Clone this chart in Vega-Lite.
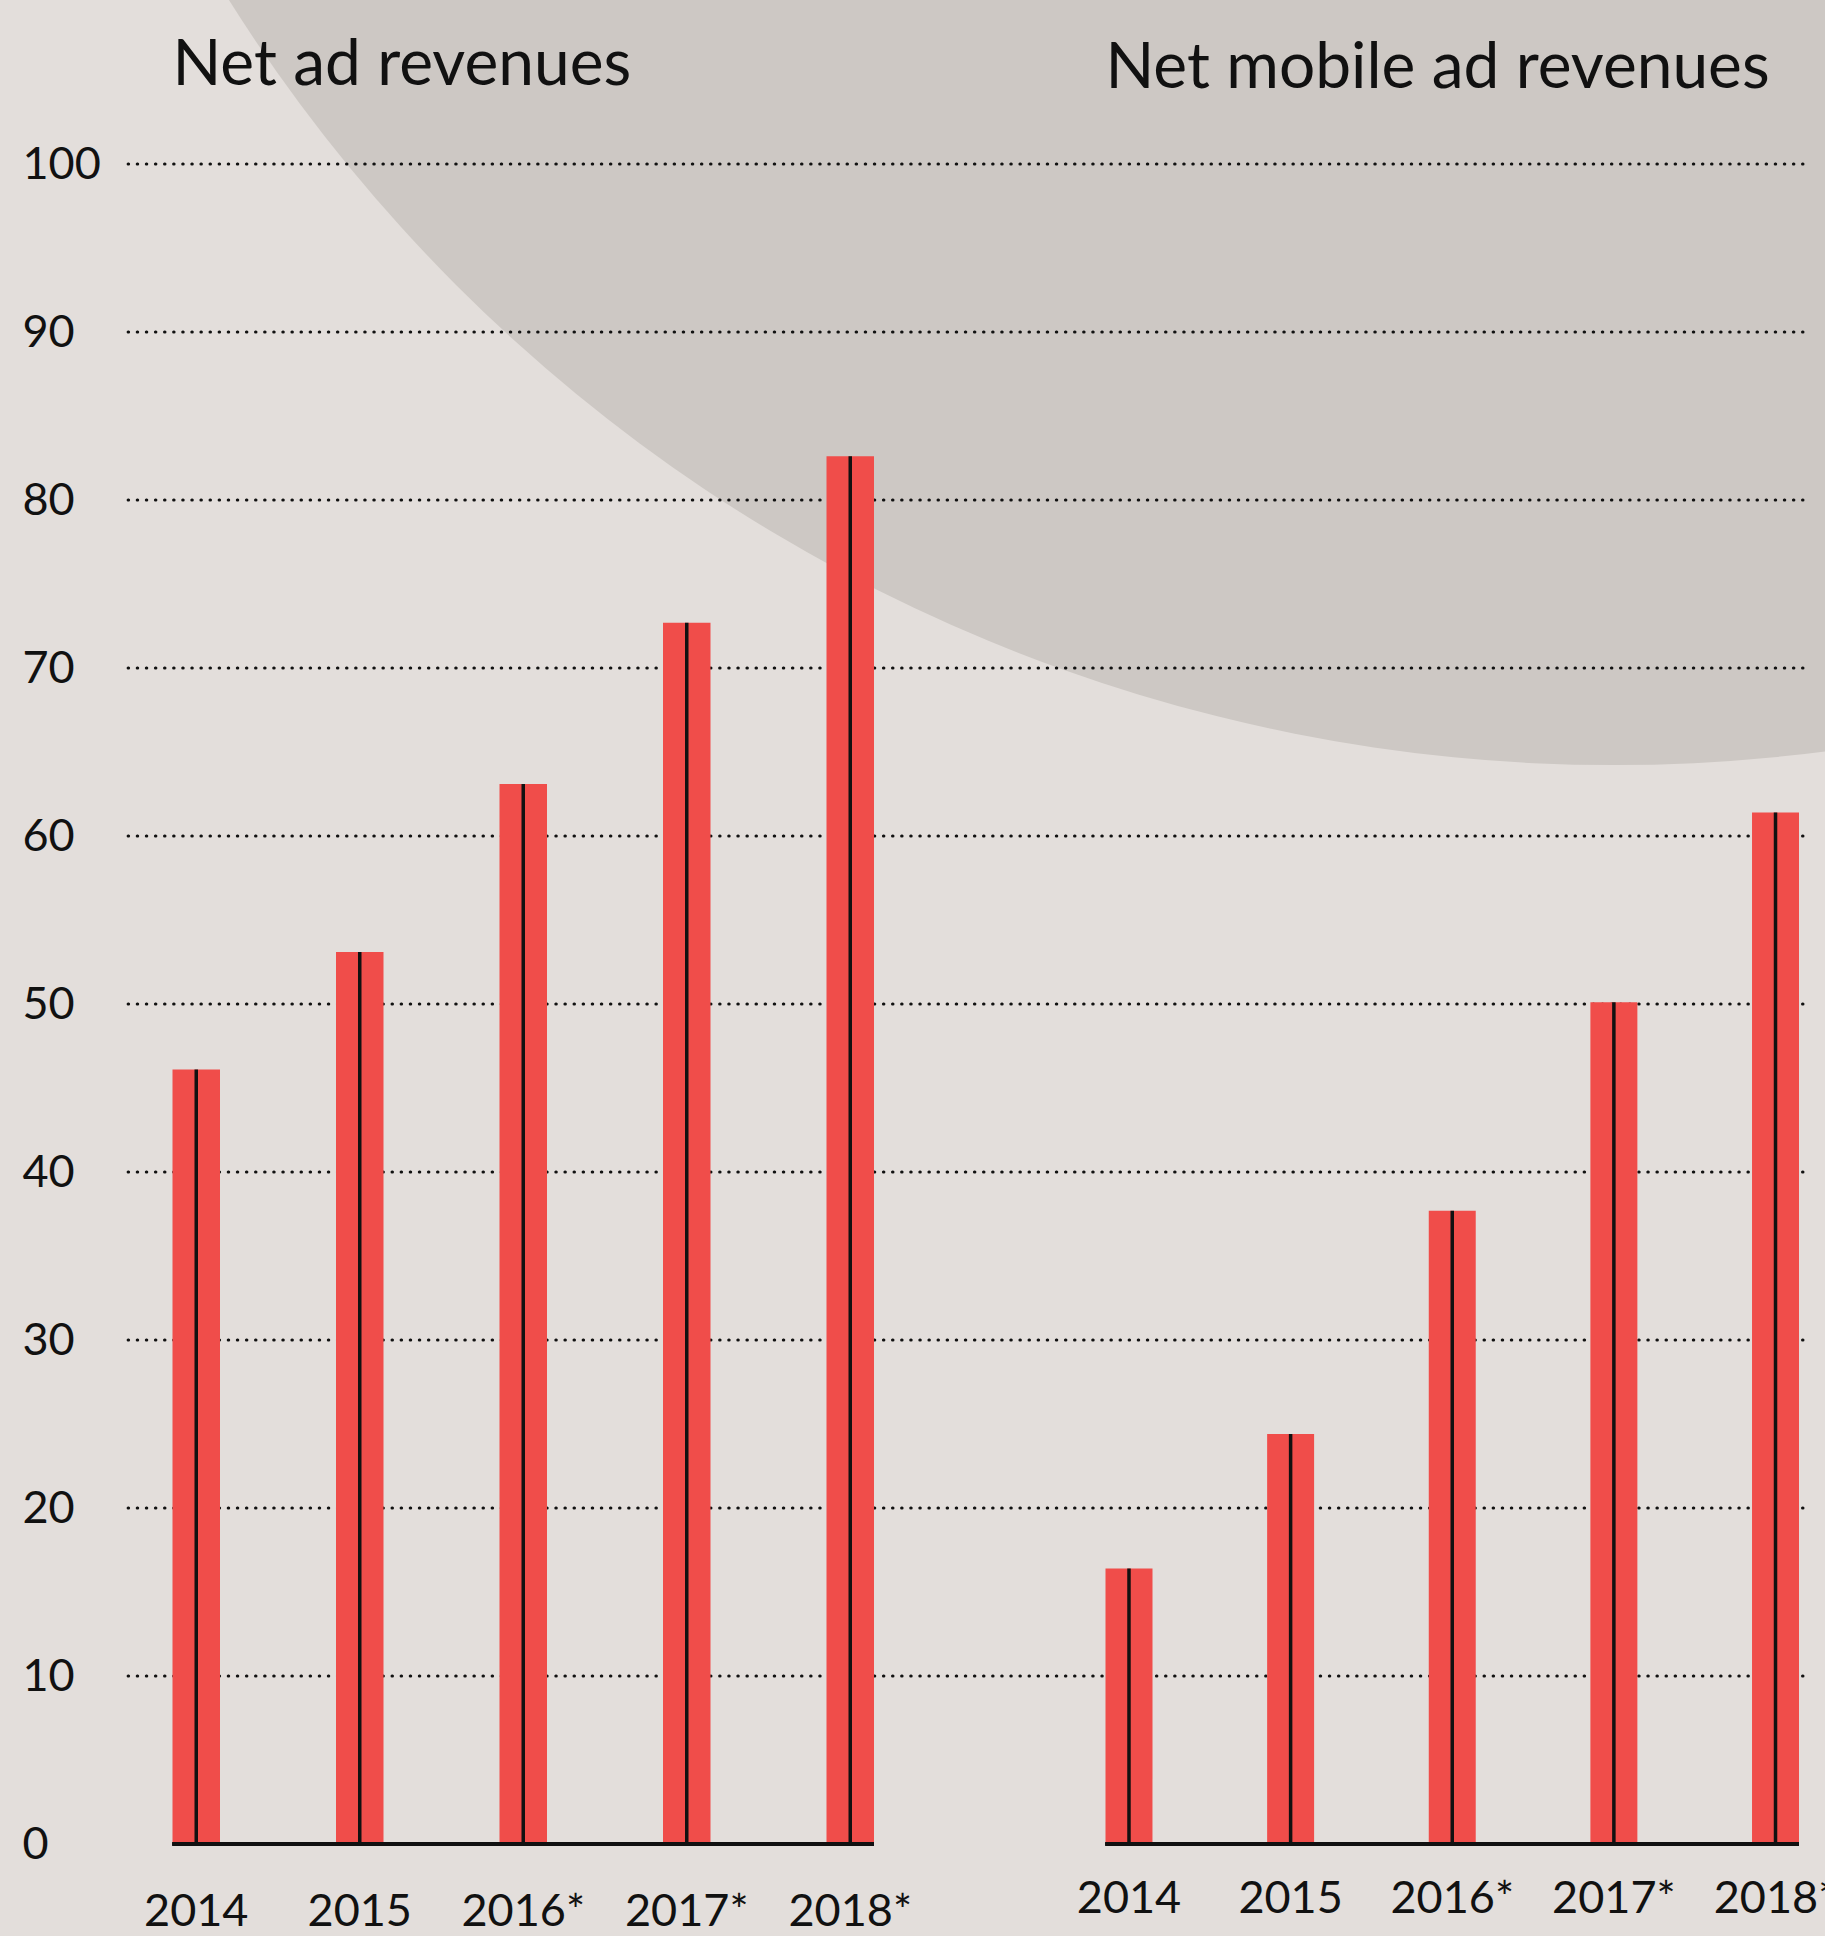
{
  "$schema": "https://vega.github.io/schema/vega-lite/v6.json",
  "width": 1675,
  "height": 1680,
  "autosize": {"type": "none"},
  "padding": {"left": 128, "top": 164, "right": 22, "bottom": 92},
  "background": "#E3DEDB",
  "config": {"view": {"stroke": null}, "font": "Lato"},
  "datasets": {
    "revenue": [
      {"panel": "Net ad revenues", "year": "2014", "value": 46.1},
      {"panel": "Net ad revenues", "year": "2015", "value": 53.1},
      {"panel": "Net ad revenues", "year": "2016*", "value": 63.1},
      {"panel": "Net ad revenues", "year": "2017*", "value": 72.7},
      {"panel": "Net ad revenues", "year": "2018*", "value": 82.6},
      {"panel": "Net mobile ad revenues", "year": "2014", "value": 16.4},
      {"panel": "Net mobile ad revenues", "year": "2015", "value": 24.4},
      {"panel": "Net mobile ad revenues", "year": "2016*", "value": 37.7},
      {"panel": "Net mobile ad revenues", "year": "2017*", "value": 50.1},
      {"panel": "Net mobile ad revenues", "year": "2018*", "value": 61.4}
    ],
    "panels": [
      {"panel": "Net ad revenues"},
      {"panel": "Net mobile ad revenues"}
    ],
    "grid": [
      {"v": 10}, {"v": 20}, {"v": 30}, {"v": 40}, {"v": 50},
      {"v": 60}, {"v": 70}, {"v": 80}, {"v": 90}, {"v": 100}
    ],
    "backdrop": [{"shape": "circle"}]
  },
  "resolve": {"scale": {"x": "independent"}, "axis": {"x": "independent"}},
  "layer": [
    {
      "data": {"name": "backdrop"},
      "mark": {"type": "point", "shape": "circle", "filled": true, "opacity": 1, "color": "#CDC8C4", "size": 10705984, "strokeWidth": 0},
      "encoding": {
        "x": {"datum": "2017*", "type": "nominal", "scale": {"type": "band", "domain": ["2014", "2015", "2016*", "2017*", "2018*"], "range": [977.5, 1671], "paddingInner": 0.7094, "paddingOuter": 0}, "axis": null},
        "y": {"datum": 161.6, "type": "quantitative"}
      }
    },
    {
      "data": {"name": "grid"},
      "mark": {"type": "rule", "color": "#111111", "strokeWidth": 3, "strokeCap": "round", "strokeDash": [0.5, 8.6]},
      "encoding": {
        "y": {
          "field": "v", "type": "quantitative",
          "scale": {"domain": [0, 100], "nice": false, "zero": true},
          "axis": {
            "values": [0, 10, 20, 30, 40, 50, 60, 70, 80, 90, 100],
            "title": null, "domain": false, "ticks": false, "tickSize": 0, "grid": false,
            "labelAlign": "left", "labelPadding": 106, "labelFontSize": 45, "labelFont": "Lato",
            "labelColor": "#111111", "labelBaseline": "middle", "orient": "left"
          }
        }
      }
    },
    {
      "data": {"name": "revenue"},
      "transform": [{"filter": "datum.panel === 'Net ad revenues'"}],
      "encoding": {
        "x": {
          "field": "year", "type": "nominal", "sort": null,
          "scale": {"type": "band", "range": [44.5, 746], "paddingInner": 0.7095, "paddingOuter": 0},
          "axis": {"orient": "bottom", "title": null, "domain": false, "ticks": false, "tickSize": 0, "grid": false,
                   "labelPadding": 81, "labelBaseline": "alphabetic", "labelFontSize": 45, "labelFont": "Lato",
                   "labelColor": "#111111", "labelAngle": 0}
        }
      },
      "layer": [
        {"mark": {"type": "bar", "color": "#F04D4A"},
         "encoding": {"y": {"field": "value", "type": "quantitative"}}},
        {"mark": {"type": "rule", "color": "#111111", "strokeWidth": 3.5},
         "encoding": {"y": {"field": "value", "type": "quantitative"}, "y2": {"datum": 0}}},
        {"mark": {"type": "rule", "color": "#111111", "strokeWidth": 3.5},
         "encoding": {
           "x": {"datum": "2014", "type": "nominal", "bandPosition": 0},
           "x2": {"datum": "2018*", "bandPosition": 1},
           "y": {"datum": 0, "type": "quantitative"}
         }},
        {"data": {"name": "panels"},
         "transform": [{"filter": "datum.panel === 'Net ad revenues'"}],
         "mark": {"type": "text", "align": "left", "baseline": "alphabetic", "fontSize": 64, "font": "Lato", "color": "#111111"},
         "encoding": {
           "x": {"datum": "2014", "type": "nominal", "bandPosition": 0},
           "y": {"datum": 104.7, "type": "quantitative"},
           "text": {"field": "panel"}
         }}
      ]
    },
    {
      "data": {"name": "revenue"},
      "transform": [{"filter": "datum.panel === 'Net mobile ad revenues'"}],
      "encoding": {
        "x": {
          "field": "year", "type": "nominal", "sort": null,
          "scale": {"type": "band", "range": [977.5, 1671], "paddingInner": 0.7094, "paddingOuter": 0},
          "axis": {"orient": "bottom", "title": null, "domain": false, "ticks": false, "tickSize": 0, "grid": false,
                   "labelPadding": 68, "labelBaseline": "alphabetic", "labelFontSize": 45, "labelFont": "Lato",
                   "labelColor": "#111111", "labelAngle": 0}
        }
      },
      "layer": [
        {"mark": {"type": "bar", "color": "#F04D4A"},
         "encoding": {"y": {"field": "value", "type": "quantitative"}}},
        {"mark": {"type": "rule", "color": "#111111", "strokeWidth": 3.5},
         "encoding": {"y": {"field": "value", "type": "quantitative"}, "y2": {"datum": 0}}},
        {"mark": {"type": "rule", "color": "#111111", "strokeWidth": 3.5},
         "encoding": {
           "x": {"datum": "2014", "type": "nominal", "bandPosition": 0},
           "x2": {"datum": "2018*", "bandPosition": 1},
           "y": {"datum": 0, "type": "quantitative"}
         }},
        {"data": {"name": "panels"},
         "transform": [{"filter": "datum.panel === 'Net mobile ad revenues'"}],
         "mark": {"type": "text", "align": "left", "baseline": "alphabetic", "fontSize": 64, "font": "Lato", "color": "#111111"},
         "encoding": {
           "x": {"datum": "2014", "type": "nominal", "bandPosition": 0},
           "y": {"datum": 104.5, "type": "quantitative"},
           "text": {"field": "panel"}
         }}
      ]
    }
  ]
}
